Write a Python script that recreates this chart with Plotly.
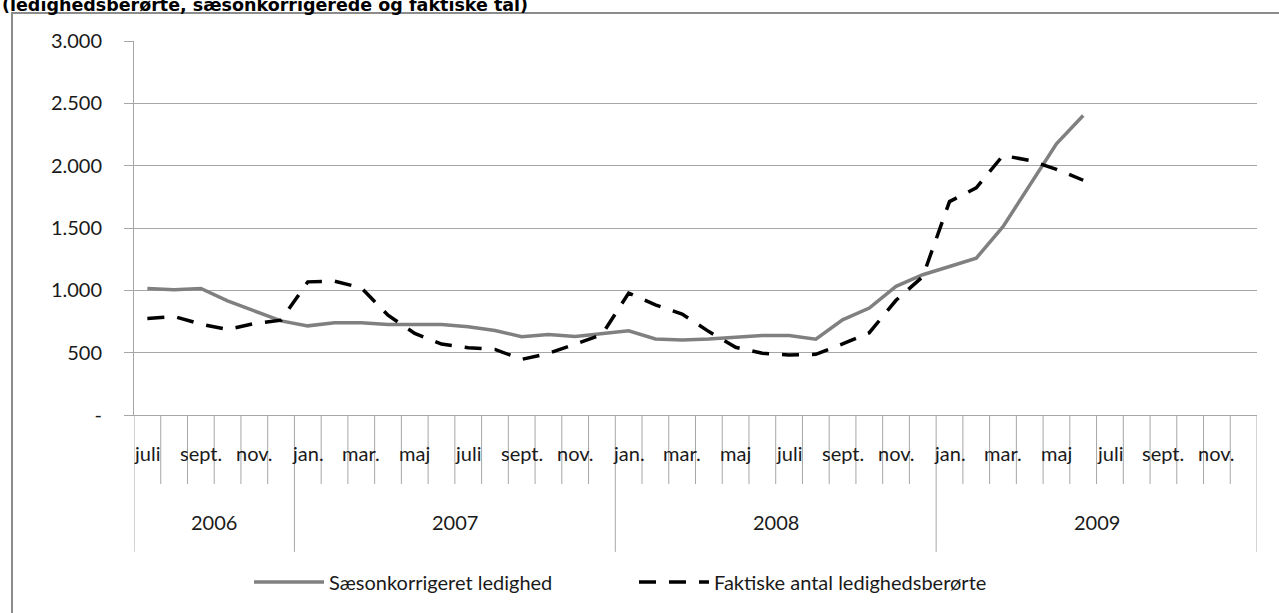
import plotly.graph_objects as go

# ---- data ----
months = ["juli", "aug.", "sept.", "okt.", "nov.", "dec."] + \
         ["jan.", "feb.", "mar.", "apr.", "maj", "juni", "juli", "aug.", "sept.", "okt.", "nov.", "dec."] * 3
years = ["2006"] * 6 + ["2007"] * 12 + ["2008"] * 12 + ["2009"] * 12
year_labels = ["2006", "2007", "2008", "2009"]

saeson = [1015, 1005, 1015, 915, 835, 755, 715, 740, 740, 725, 725, 725, 708, 678, 628, 645, 630, 650,
          675, 610, 602, 610, 624, 637, 637, 608, 763, 858, 1032, 1125, 1191, 1258, 1510, 1843, 2175, 2402]
faktisk = [775, 790, 729, 686, 734, 761, 1068, 1074, 1020, 800, 655, 569, 540, 526, 446, 494, 569, 645,
           978, 884, 810, 669, 543, 495, 481, 487, 570, 660, 920, 1110, 1712, 1822, 2082, 2042, 1971, 1883]

y_tickvals = [0, 500, 1000, 1500, 2000, 2500, 3000]
y_ticktext = ["-", "500", "1.000", "1.500", "2.000", "2.500", "3.000"]

title_text = "(ledighedsberørte, sæsonkorrigerede og faktiske tal)"

FONT = "Lato"
FS = 20
GRID = "#A6A6A6"
TXT = "#1a1a1a"

fig = go.Figure()
fig.add_trace(go.Scatter(
    x=list(range(len(saeson))), y=saeson, mode="lines",
    name="Sæsonkorrigeret ledighed",
    line=dict(color="#808080", width=3.5)))
fig.add_trace(go.Scatter(
    x=list(range(len(faktisk))), y=faktisk, mode="lines",
    name="Faktiske antal ledighedsberørte",
    line=dict(color="#000000", width=3.5, dash="17px,13px")))

shapes = []
annotations = []
n = len(months)
# category boundaries
for k in range(n + 1):
    is_year = k == 0 or k == n or years[k] != years[k - 1]
    shapes.append(dict(type="line", xref="x", yref="paper",
                       x0=k - 0.5, x1=k - 0.5, y0=0, y1=-0.366 if is_year else -0.1845,
                       line=dict(color=GRID, width=1)))
# month labels (every other)
for i, m in enumerate(months):
    if i % 2 == 0:
        annotations.append(dict(x=i, y=-0.1016, xref="x", yref="paper", text=m,
                                showarrow=False, font=dict(family=FONT, size=FS, color=TXT),
                                xanchor="center", yanchor="middle"))
# year labels
for yl in year_labels:
    idx = [i for i, yv in enumerate(years) if yv == yl]
    annotations.append(dict(x=(idx[0] + idx[-1]) / 2, y=-0.286, xref="x", yref="paper", text=yl,
                            showarrow=False, font=dict(family=FONT, size=FS, color=TXT),
                            xanchor="center", yanchor="middle"))
# title (cut at top, as in the reference)
annotations.append(dict(x=(0 - 134) / 1123, y=1.0963, xref="paper", yref="paper",
                        text="<b>" + title_text + "</b>",
                        showarrow=False, font=dict(family="DejaVu Sans", size=17.5, color="#000"),
                        xanchor="left", yanchor="middle"))
# chart border
shapes.append(dict(type="rect", xref="paper", yref="paper",
                   x0=(12 - 134) / 1123, x1=(1300 - 134) / 1123,
                   y0=(415 - 640) / 374, y1=(415 - 13) / 374,
                   line=dict(color="#8C8C8C", width=2), fillcolor="rgba(0,0,0,0)", layer="below"))

fig.update_layout(
    width=1279, height=613,
    margin=dict(l=134, r=22, t=41, b=198),
    paper_bgcolor="white", plot_bgcolor="white",
    showlegend=True,
    legend=dict(orientation="h", x=0.1024, y=-0.4465, xanchor="left", yanchor="middle",
                font=dict(family=FONT, size=FS, color=TXT), entrywidth=300, itemwidth=70),
    xaxis=dict(range=[-0.5, n - 0.5], showticklabels=False, showgrid=False, zeroline=False,
               showline=True, linecolor=GRID, linewidth=1, ticks="", automargin=False),
    yaxis=dict(range=[0, 3000], tickvals=y_tickvals, ticktext=y_ticktext,
               showgrid=True, gridcolor=GRID, gridwidth=1, zeroline=False,
               showline=True, linecolor=GRID, linewidth=1,
               ticks="outside", ticklen=9, tickcolor=GRID,
               ticklabelstandoff=18, automargin=False,
               tickfont=dict(family=FONT, size=FS, color=TXT)),
    shapes=shapes, annotations=annotations,
)

fig.write_html("out.html", config={"displayModeBar": False},
               post_script="document.body.style.margin='0';")
